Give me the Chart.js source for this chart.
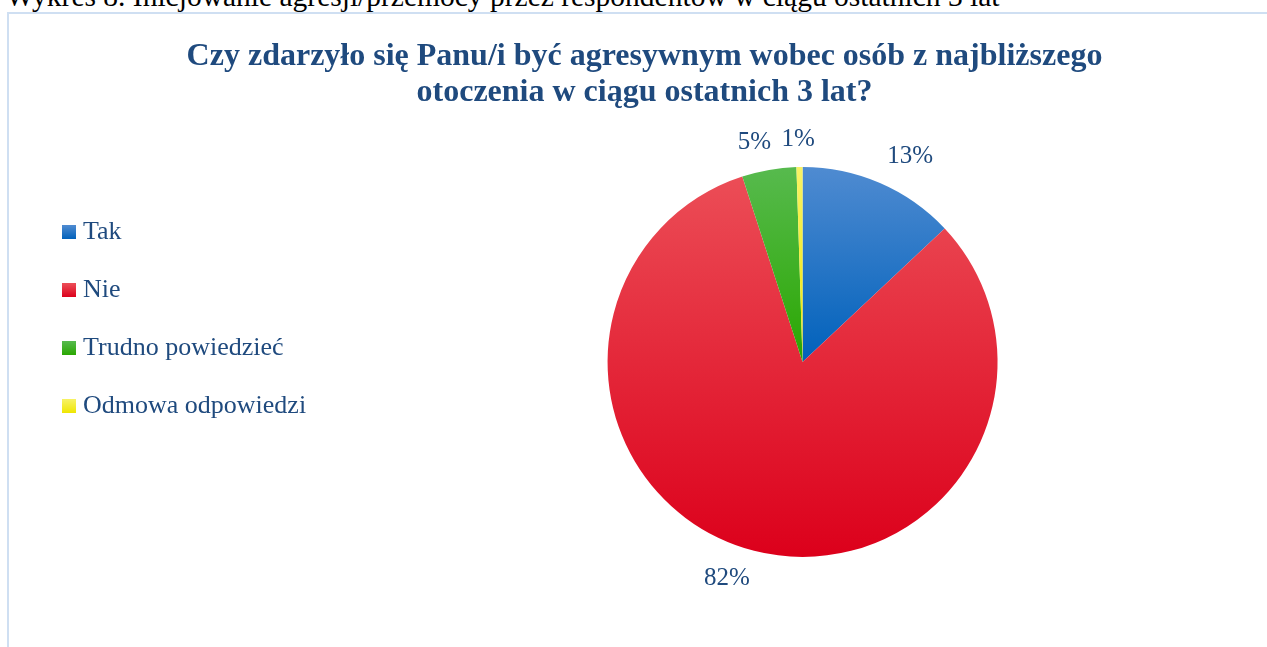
<!DOCTYPE html>
<html>
<head>
<meta charset="utf-8">
<script src="https://cdn.jsdelivr.net/npm/chart.js@4.4.0/dist/chart.umd.min.js"></script>
<style>
  html, body { margin: 0; padding: 0; background: #fff; overflow: hidden; }
  body { width: 1267px; height: 647px; position: relative; }
  #caption {
    position: absolute; left: 6px; top: -18px;
    font: 29.5px/29.5px "Liberation Serif", "Times New Roman", serif;
    color: #000; white-space: nowrap;
  }
  #box {
    position: absolute; left: 7px; top: 12px; width: 1260px; height: 635px;
    border-left: 2px solid #cfdff2; border-top: 2px solid #cfdff2;
    box-sizing: border-box;
  }
  #chart { position: absolute; left: 0; top: 0; }
</style>
</head>
<body>
<div id="caption">Wykres 8. Inicjowanie agresji/przemocy przez respondentów w ciągu ostatnich 3 lat</div>
<div id="box"><canvas id="chart" width="1258" height="633"></canvas></div>
<script>
const categories = ['Tak', 'Nie', 'Trudno powiedzieć', 'Odmowa odpowiedzi']
const shares = [13, 82, 4.5, 0.5]
const shareLabels = ['13%', '82%', '5%', '1%']
const titleLines = ['Czy zdarzyło się Panu/i być agresywnym wobec osób z najbliższego', 'otoczenia w ciągu ostatnich 3 lat?']

// top / bottom colours of the Office-style gradients
const colorTop = ['#4f8bd1', '#ec4f58', '#57ba4e', '#f7f266']
const colorBottom = ['#0061bb', '#dc001b', '#2aa700', '#efe600']

const textBlue = '#1f4a7e'
const serif = '"Liberation Serif", "Times New Roman", serif'

function sliceFill(ctx) {
  const chart = ctx.chart
  const area = chart.chartArea
  const i = ctx.dataIndex
  if (!area) return colorBottom[i]
  const cy = (area.top + area.bottom) / 2
  const r = Math.min(area.right - area.left, area.bottom - area.top) / 2
  // red slice spans the whole height, the others only the top half
  const y1 = i === 1 ? cy + r : cy
  const g = chart.ctx.createLinearGradient(0, cy - r, 0, y1)
  g.addColorStop(0, colorTop[i])
  g.addColorStop(1, colorBottom[i])
  return g
}

// legend markers: small gradient squares, drawn at the right side of a wider
// transparent canvas so the text sits closer to the square
function markerImage(i) {
  const cv = document.createElement('canvas')
  cv.width = 26
  cv.height = 14
  const c = cv.getContext('2d')
  const g = c.createLinearGradient(0, 0, 0, 14)
  g.addColorStop(0, colorTop[i])
  g.addColorStop(1, colorBottom[i])
  c.fillStyle = g
  c.fillRect(12, 0, 14, 14)
  return cv
}
const markers = categories.map((_, i) => markerImage(i))

const outsideLabels = {
  id: 'outsideLabels',
  afterDatasetsDraw(chart) {
    const c = chart.ctx
    const arcs = chart.getDatasetMeta(0).data
    c.save()
    c.font = '25px ' + serif
    c.fillStyle = textBlue
    c.textAlign = 'center'
    c.textBaseline = 'middle'
    arcs.forEach((arc, i) => {
      const mid = (arc.startAngle + arc.endAngle) / 2
      const dx = Math.cos(mid), dy = Math.sin(mid)
      const d = arc.outerRadius + 18
      const w = c.measureText(shareLabels[i]).width, h = 20
      const fx = Math.max(-1, Math.min(1, dx * 4))
      const fy = Math.max(-1, Math.min(1, dy * 3))
      c.fillText(shareLabels[i], arc.x + dx * d + fx * w / 2, arc.y + dy * d + fy * h / 2)
    })
    c.restore()
  }
}

// widen the legend box so the pie sits where it does in the original
const legendWidth = {
  id: 'legendWidth',
  beforeLayout(chart) {
    const lg = chart.legend
    if (lg && !lg._widened) {
      const fit = lg.fit
      lg.fit = function () { fit.call(this); this.width += 24 }
      lg._widened = true
    }
  }
}

new Chart(document.getElementById('chart'), {
  type: 'pie',
  data: {
    labels: categories,
    datasets: [{
      data: shares,
      backgroundColor: sliceFill,
      borderWidth: 0,
      hoverOffset: 0
    }]
  },
  options: {
    responsive: false,
    animation: false,
    layout: { padding: { left: 15, right: 2, top: 0, bottom: 90 } },
    plugins: {
      title: {
        display: true,
        text: titleLines,
        color: textBlue,
        font: { family: serif, size: 32, weight: 'bold', lineHeight: 36 / 32 },
        padding: { top: 25, bottom: 56 }
      },
      legend: {
        position: 'left',
        align: 'start',
        title: { display: true, text: ' ', font: { size: 1 }, padding: { top: 0, bottom: 172 } },
        labels: {
          color: textBlue,
          font: { family: serif, size: 26 },
          usePointStyle: true,
          boxWidth: 14,
          boxHeight: 14,
          padding: 32,
          generateLabels(chart) {
            const items = Chart.overrides.pie.plugins.legend.labels.generateLabels(chart)
            items.forEach((it, i) => { it.pointStyle = markers[i] })
            return items
          }
        }
      },
      tooltip: { enabled: false }
    }
  },
  plugins: [outsideLabels, legendWidth]
})
</script>
</body>
</html>
